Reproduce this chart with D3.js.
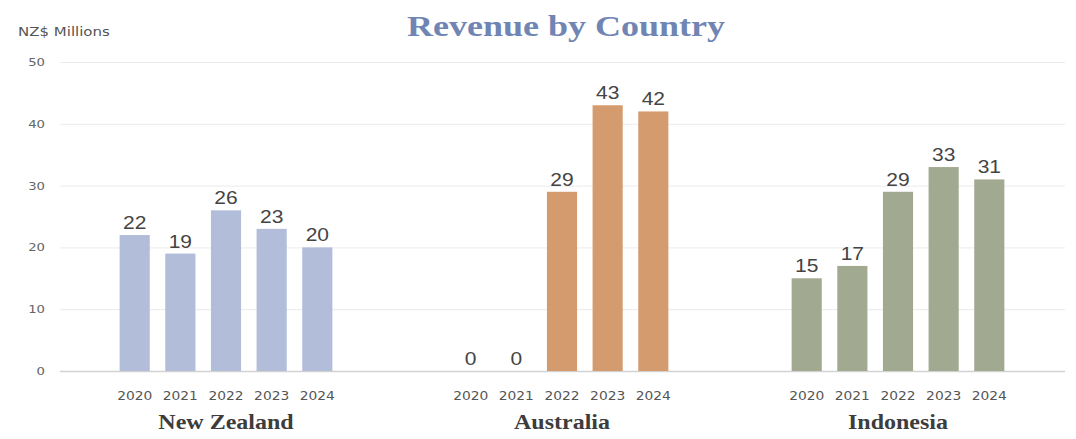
<!DOCTYPE html>
<html>
<head>
<meta charset="utf-8">
<script src="https://cdn.jsdelivr.net/npm/d3@7"></script>
<style>
  html, body { margin: 0; padding: 0; background: #ffffff; }
  svg { display: block; }
</style>
</head>
<body>
<svg id="chart" width="1076" height="439"></svg>
<script>
// Revenue per country and year, NZ$ millions
const countries = ["New Zealand", "Australia", "Indonesia"];
const years = ["2020", "2021", "2022", "2023", "2024"];
const newZealand = [22, 19, 26, 23, 20];
const australia = [0, 0, 29, 43, 42];
const indonesia = [15, 17, 29, 33, 31];
const yTicks = [0, 10, 20, 30, 40, 50];

const seriesByCountry = {
  "New Zealand": newZealand,
  "Australia": australia,
  "Indonesia": indonesia
};
const colorByCountry = {
  "New Zealand": "#b2bdda",
  "Australia": "#d49b6e",
  "Indonesia": "#a2a991"
};

// all lettering uses a slightly widened face
const WIDE = 1.2;
const SANS = "'DejaVu Sans', Verdana, sans-serif";
const SERIF = "'Liberation Serif', 'Times New Roman', serif";

function wideText(sel, x, y) {
  return sel.attr("x", 0).attr("y", 0)
    .attr("transform", (d, i, n) => {
      const xx = typeof x === "function" ? x(d, i, n) : x;
      const yy = typeof y === "function" ? y(d, i, n) : y;
      return `translate(${xx},${yy}) scale(${WIDE},1)`;
    });
}

const svg = d3.select("#chart");

const y = d3.scaleLinear().domain([0, 50]).range([371, 62]);

const x0 = d3.scaleBand().domain(countries).range([58, 1066]).paddingInner(0);
const x1 = d3.scaleBand().domain(years).range([0, x0.bandwidth()])
  .paddingInner(0.34).paddingOuter(1.35);

// gridlines + y tick labels
const yAxis = d3.axisLeft(y).tickValues(yTicks).tickSize(-(1065 - 60)).tickPadding(15);
const gy = svg.append("g").attr("transform", "translate(60,0)").call(yAxis);
gy.select(".domain").remove();
gy.selectAll(".tick line")
  .attr("stroke", d => d === 0 ? "#d2d2d2" : "#ebebeb")
  .attr("stroke-width", d => d === 0 ? 1.5 : 1);
gy.selectAll(".tick text")
  .attr("fill", "#666")
  .attr("font-family", SANS)
  .attr("font-size", 11)
  .attr("transform", `scale(${WIDE},1)`)
  .attr("x", -15 / WIDE);

// unit label
wideText(svg.append("text"), 18, 36)
  .attr("font-family", SANS)
  .attr("font-size", 12.5)
  .attr("fill", "#555")
  .text("NZ$ Millions");

// title
wideText(svg.append("text"), 566, 36)
  .attr("text-anchor", "middle")
  .attr("font-family", SERIF)
  .attr("font-weight", "bold")
  .attr("font-size", 30)
  .attr("fill", "#7085b3")
  .text("Revenue by Country");

const groups = svg.selectAll("g.country")
  .data(countries)
  .join("g")
  .attr("class", "country")
  .attr("transform", c => `translate(${x0(c)},0)`);

const cells = groups.selectAll("g.bar")
  .data(c => years.map((yr, i) => ({ country: c, year: yr, value: seriesByCountry[c][i] })))
  .join("g")
  .attr("class", "bar");

cells.append("rect")
  .attr("x", d => x1(d.year))
  .attr("width", x1.bandwidth())
  .attr("y", d => y(d.value))
  .attr("height", d => y(0) - y(d.value))
  .attr("fill", d => colorByCountry[d.country]);

// value labels above bars
wideText(cells.append("text"),
    d => x1(d.year) + x1.bandwidth() / 2,
    d => y(d.value) - 6)
  .attr("text-anchor", "middle")
  .attr("font-family", "'Liberation Sans', Arial, sans-serif")
  .attr("font-size", 17.5)
  .attr("fill", "#444")
  .text(d => d.value);

// year labels under each bar
wideText(cells.append("text"),
    d => x1(d.year) + x1.bandwidth() / 2,
    400)
  .attr("text-anchor", "middle")
  .attr("font-family", SANS)
  .attr("font-size", 11.5)
  .attr("fill", "#555")
  .text(d => d.year);

// country labels
wideText(groups.append("text"), x0.bandwidth() / 2, 429)
  .attr("text-anchor", "middle")
  .attr("font-family", SERIF)
  .attr("font-weight", "bold")
  .attr("font-size", 20)
  .attr("fill", "#3d3d3d")
  .text(c => c);
</script>
</body>
</html>
